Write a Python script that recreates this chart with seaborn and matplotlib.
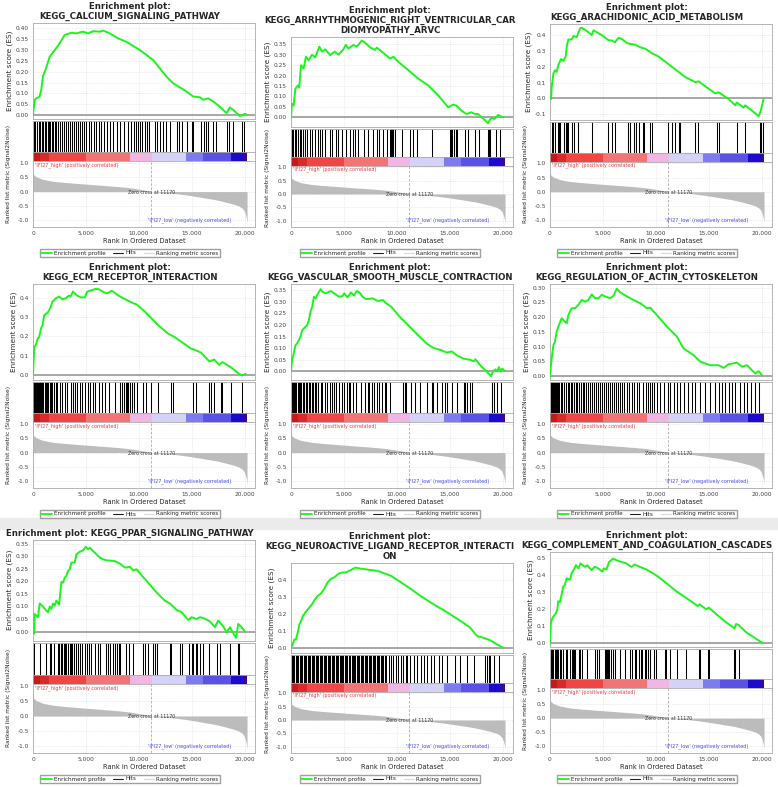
import matplotlib
matplotlib.use("Agg")
import matplotlib.pyplot as plt
from matplotlib.lines import Line2D
from matplotlib.patches import Rectangle
import seaborn as sns

# ---- data ----
titles = [
    "Enrichment plot:\nKEGG_CALCIUM_SIGNALING_PATHWAY",
    "Enrichment plot:\nKEGG_ARRHYTHMOGENIC_RIGHT_VENTRICULAR_CAR\nDIOMYOPATHY_ARVC",
    "Enrichment plot:\nKEGG_ARACHIDONIC_ACID_METABOLISM",
    "Enrichment plot:\nKEGG_ECM_RECEPTOR_INTERACTION",
    "Enrichment plot:\nKEGG_VASCULAR_SMOOTH_MUSCLE_CONTRACTION",
    "Enrichment plot:\nKEGG_REGULATION_OF_ACTIN_CYTOSKELETON",
    "Enrichment plot: KEGG_PPAR_SIGNALING_PATHWAY",
    "Enrichment plot:\nKEGG_NEUROACTIVE_LIGAND_RECEPTOR_INTERACTI\nON",
    "Enrichment plot:\nKEGG_COMPLEMENT_AND_COAGULATION_CASCADES",
]

calcium_rank = [0, 160, 320, 630, 790, 950, 1260, 1580, 1890, 2360, 2680, 2990, 3620, 4090, 4720, 5200,
                5670, 6300, 6610, 7240, 8030, 8820, 10080, 11340, 12600, 13230, 14020, 14490, 15120,
                15750, 16060, 16540, 17010, 17640, 18270, 18580, 18900, 19530, 20000, 20100]
calcium_es = [0, 0.07, 0.077, 0.085, 0.12, 0.18, 0.22, 0.27, 0.29, 0.32, 0.345, 0.37, 0.38, 0.377, 0.385,
              0.377, 0.387, 0.385, 0.39, 0.377, 0.354, 0.338, 0.30, 0.254, 0.177, 0.146, 0.123, 0.108,
              0.085, 0.082, 0.07, 0.077, 0.062, 0.038, 0.008, 0.035, 0.023, -0.005, 0.005, 0.003]
calcium_hits = [95, 220, 380, 570, 690, 850, 980, 1100, 1260, 1390, 1510, 1640, 1800, 1920, 2080, 2200,
                2360, 2520, 2710, 2900, 3090, 3280, 3470, 3650, 3840, 4030, 4250, 4440, 4630, 4850, 5040,
                5290, 5510, 5760, 5990, 6240, 6460, 6710, 6990, 7250, 7560, 7880, 8190, 8570, 8980, 9290,
                9510, 9700, 9920, 10080, 10330, 10580, 10770, 10960, 11500, 11720, 11970, 12290, 12540,
                12920, 13610, 13800, 14020, 14490, 14960, 15120, 15840, 16130, 16320, 16510, 17010, 17260,
                18330, 18520, 18900, 19720, 19910]

arvc_rank = [0, 90, 250, 410, 660, 780, 940, 1190, 1410, 1660, 1980, 2290, 2670, 2920, 3230, 3700, 4110,
             4480, 4950, 5170, 5420, 5890, 6210, 6680, 6990, 7460, 7930, 8090, 8560, 9340, 9660, 10130,
             11070, 12010, 12950, 13890, 14830, 15300, 15610, 16080, 16550, 17020, 17340, 17650, 18280,
             18590, 18900, 19220, 19530, 20000]
arvc_es = [0, 0.065, 0.056, 0.137, 0.153, 0.142, 0.25, 0.234, 0.29, 0.274, 0.30, 0.287, 0.339, 0.315,
           0.326, 0.298, 0.315, 0.30, 0.327, 0.347, 0.33, 0.347, 0.339, 0.368, 0.358, 0.335, 0.323, 0.334,
           0.315, 0.282, 0.29, 0.266, 0.226, 0.185, 0.153, 0.105, 0.048, 0.061, 0.056, 0.032, 0.016,
           0.024, 0.016, 0.016, -0.013, -0.029, 0.0, -0.008, 0.011, 0.0]
arvc_hits = [94, 190, 350, 500, 660, 820, 940, 1100, 1290, 1510, 1820, 1980, 2290, 2540, 2760, 2920, 3230,
             3640, 3860, 4230, 4480, 4800, 5170, 5580, 5890, 6050, 6360, 6930, 7310, 7780, 8090, 8340,
             8720, 9030, 9340, 9440, 9500, 9590, 9660, 9810, 10440, 11220, 11540, 11850, 13260, 14990,
             15080, 15210, 15360, 15610, 15710, 16400, 16710, 17340, 17710, 18590, 18650, 18750, 19370,
             19690]

arachidonic_rank = [0, 95, 160, 320, 470, 630, 790, 1040, 1260, 1480, 1580, 1730, 2050, 2210, 2520, 2840,
                    2990, 3470, 3940, 4100, 4880, 5510, 5830, 6140, 6460, 6770, 7250, 7560, 8030, 8510,
                    8980, 9610, 10240, 11500, 12760, 13700, 14020, 14650, 15590, 15910, 16850, 17480,
                    17640, 18270, 18430, 19690, 19850, 20000, 20160]
arachidonic_es = [0, -0.004, 0.071, 0.157, 0.178, 0.168, 0.211, 0.249, 0.237, 0.265, 0.329, 0.372, 0.372,
                  0.394, 0.387, 0.443, 0.447, 0.426, 0.40, 0.43, 0.40, 0.368, 0.366, 0.355, 0.383, 0.376,
                  0.35, 0.344, 0.34, 0.323, 0.314, 0.286, 0.265, 0.20, 0.135, 0.103, 0.108, 0.077, 0.032,
                  0.039, -0.004, -0.043, -0.026, -0.058, -0.043, -0.112, -0.086, -0.047, 0.0]
arachidonic_hits = [160, 250, 470, 720, 850, 950, 1350, 1480, 1580, 1670, 2110, 2300, 2610, 2680, 3940,
                    5510, 5830, 6140, 7400, 7560, 7880, 8100, 8410, 8820, 8910, 9450, 9610, 11180, 11500,
                    11810, 12130, 12290, 13700, 13950, 15750, 15910, 17640, 18430, 19850, 19940, 20070]

ecm_rank = [0, 125, 280, 440, 590, 750, 900, 1060, 1370, 1530, 1680, 1840, 2150, 2460, 2770, 3080, 3400,
            3550, 3770, 4170, 4490, 4890, 5110, 5420, 5890, 6200, 6670, 6980, 7450, 8070, 8690, 9470,
            9780, 10560, 11810, 12740, 13360, 14920, 15390, 15860, 16640, 17100, 17570, 17880, 18660,
            19440, 19750, 20060]
ecm_es = [0, 0.144, 0.157, 0.189, 0.197, 0.241, 0.259, 0.312, 0.324, 0.338, 0.356, 0.382, 0.40, 0.409,
          0.395, 0.40, 0.414, 0.409, 0.435, 0.414, 0.405, 0.405, 0.435, 0.44, 0.449, 0.448, 0.432, 0.426,
          0.439, 0.414, 0.395, 0.374, 0.368, 0.33, 0.259, 0.215, 0.197, 0.136, 0.127, 0.115, 0.069, 0.079,
          0.051, 0.065, 0.039, 0.004, -0.005, 0.004]
ecm_hits = [30, 125, 220, 310, 400, 500, 590, 690, 780, 870, 970, 1090, 1220, 1340, 1460, 1590, 1710, 1840,
            1990, 2150, 2310, 2520, 2770, 3020, 3240, 3550, 3770, 3960, 4170, 4390, 4640, 4950, 5200,
            5420, 5640, 5890, 6200, 6510, 6820, 7200, 7760, 8220, 8380, 8630, 8750, 8850, 8940, 9000,
            9160, 9380, 9560, 9780, 10400, 10620, 11180, 11810, 13050, 13210, 15080, 15390, 16640, 16790,
            17100, 17720, 17880, 18660, 19750]

vascular_rank = [0, 95, 250, 410, 570, 730, 890, 1050, 1370, 1520, 1680, 1840, 2000, 2160, 2320, 2480,
                 2790, 2950, 3270, 3750, 4060, 4540, 4860, 5020, 5330, 5650, 5970, 6190, 6450, 6760, 7080,
                 7720, 8190, 8670, 8990, 9460, 10260, 11210, 11840, 12800, 13430, 14220, 14700, 15180,
                 15650, 16290, 16920, 17240, 17400, 17880, 18510, 18890, 19050, 19300, 19460, 19620,
                 19780, 19940, 20160]
vascular_es = [0, 0.048, 0.076, 0.112, 0.12, 0.134, 0.148, 0.177, 0.192, 0.199, 0.22, 0.256, 0.278, 0.321,
               0.314, 0.329, 0.354, 0.343, 0.336, 0.346, 0.336, 0.321, 0.324, 0.336, 0.318, 0.34, 0.326,
               0.346, 0.34, 0.321, 0.311, 0.314, 0.303, 0.307, 0.293, 0.278, 0.235, 0.192, 0.163, 0.12,
               0.101, 0.091, 0.081, 0.086, 0.069, 0.055, 0.05, 0.043, 0.052, 0.026, -0.003, -0.02, 0.0,
               0.009, 0.0, 0.019, 0.0, 0.012, 0.003]
vascular_hits = [95, 190, 290, 410, 510, 640, 730, 860, 980, 1110, 1210, 1370, 1520, 1680, 1840, 2000,
                 2100, 2250, 2380, 2570, 2790, 2950, 3210, 3430, 3650, 3840, 4060, 4290, 4540, 4790, 5020,
                 5240, 5430, 5560, 5810, 6130, 6600, 7020, 7240, 7400, 7650, 7870, 8100, 8350, 8600, 8830,
                 8990, 9300, 10570, 10730, 10890, 11370, 11680, 12160, 12800, 13270, 13430, 13750, 14220,
                 14540, 14700, 15180, 15650, 16290, 16450, 16610, 16920, 17080, 18990, 19150, 19460, 19780]

actin_rank = [0, 95, 220, 320, 470, 630, 790, 1100, 1260, 1580, 1730, 2050, 2360, 2680, 2990, 3310, 3620,
              3940, 4250, 4570, 4880, 5200, 5670, 5990, 6300, 6620, 7250, 7880, 8510, 9140, 9450, 10080,
              11030, 11970, 12600, 13550, 14180, 15120, 15910, 16380, 16850, 17640, 18110, 18590, 19060,
              19370, 19690, 20000]
actin_es = [0, 0.037, 0.077, 0.105, 0.117, 0.151, 0.168, 0.196, 0.19, 0.179, 0.207, 0.23, 0.23, 0.241,
            0.258, 0.252, 0.258, 0.277, 0.264, 0.264, 0.275, 0.27, 0.264, 0.272, 0.296, 0.284, 0.27, 0.258,
            0.247, 0.23, 0.232, 0.207, 0.168, 0.134, 0.094, 0.071, 0.049, 0.037, 0.037, 0.028, 0.04, 0.046,
            0.032, 0.037, 0.02, 0.009, 0.017, 0.003]
actin_hits = [60, 160, 250, 350, 440, 540, 630, 760, 880, 1010, 1170, 1320, 1510, 1670, 1830, 1950, 2110,
              2270, 2430, 2580, 2770, 2930, 3090, 3240, 3400, 3590, 3780, 3970, 4160, 4350, 4540, 4730,
              4910, 5100, 5290, 5480, 5670, 5860, 6050, 6240, 6430, 6620, 6800, 6990, 7250, 7500, 7720,
              7940, 8190, 8440, 8760, 9070, 9230, 9390, 9610, 9830, 10080, 10400, 10770, 11090, 11340,
              11660, 11970, 12290, 12660, 13070, 13390, 13700, 14180, 14650, 15120, 15590, 15910, 16220,
              16540, 16850, 17170, 17480, 17960, 18270, 18590, 18960, 19370, 19690]

ppar_rank = [0, 95, 160, 320, 470, 630, 950, 1260, 1420, 1580, 1730, 1890, 2050, 2210, 2460, 2680, 2840,
             2990, 3150, 3310, 3470, 3620, 3940, 4100, 4410, 4730, 4980, 5200, 5360, 5990, 6300, 6620,
             6930, 7720, 8190, 8660, 9140, 9450, 9770, 10710, 11660, 12440, 12920, 13550, 14020, 14650,
             14960, 15440, 15750, 16070, 16700, 17170, 17480, 17960, 18270, 18590, 19150, 19370, 19690,
             20000]
ppar_es = [0, -0.009, 0.07, 0.063, 0.057, 0.112, 0.099, 0.083, 0.077, 0.099, 0.09, 0.112, 0.103, 0.123,
           0.107, 0.198, 0.195, 0.215, 0.222, 0.242, 0.248, 0.275, 0.275, 0.308, 0.318, 0.324, 0.338,
           0.328, 0.334, 0.308, 0.295, 0.288, 0.284, 0.281, 0.271, 0.255, 0.258, 0.244, 0.248, 0.202,
           0.156, 0.123, 0.112, 0.086, 0.077, 0.046, 0.057, 0.05, 0.057, 0.054, 0.04, 0.017, 0.044, 0.02,
           -0.003, 0.017, -0.025, 0.03, 0.017, 0.0]
ppar_hits = [95, 630, 1260, 1580, 1730, 1950, 2360, 2460, 2610, 2680, 2770, 2900, 2990, 3150, 3310, 3470,
             3620, 3720, 3840, 4030, 4250, 4410, 4660, 4880, 5100, 5290, 5510, 5830, 6140, 6300, 6930,
             7090, 7250, 7560, 7720, 7880, 8130, 8190, 8250, 8760, 9070, 9390, 10400, 10550, 10870, 11280,
             11500, 11660, 12920, 13070, 13860, 14020, 14740, 14960, 15120, 15370, 15500, 15750, 16070,
             16630, 17330, 17640, 18590, 19370, 19470]

neuro_rank = [0, 160, 310, 470, 630, 780, 940, 1100, 1410, 1720, 2040, 2200, 2510, 2820, 3140, 3450, 3760,
              4080, 4550, 4860, 5170, 5490, 5800, 6110, 6430, 6900, 7520, 8150, 8780, 9410, 10030, 10970,
              12230, 13480, 14730, 15680, 16300, 16930, 17560, 18180, 18810, 19440, 20000]
neuro_es = [0, 0.019, 0.048, 0.048, 0.087, 0.135, 0.155, 0.184, 0.213, 0.236, 0.261, 0.28, 0.305, 0.319,
            0.348, 0.386, 0.406, 0.415, 0.439, 0.444, 0.444, 0.454, 0.464, 0.473, 0.468, 0.464, 0.458,
            0.454, 0.439, 0.425, 0.40, 0.361, 0.305, 0.255, 0.209, 0.17, 0.145, 0.116, 0.068, 0.058, 0.043,
            0.019, 0.0]
neuro_hits = [60, 190, 310, 440, 560, 690, 820, 940, 1070, 1190, 1320, 1440, 1570, 1690, 1820, 1940, 2070,
              2200, 2320, 2450, 2570, 2700, 2820, 2950, 3070, 3200, 3320, 3450, 3570, 3700, 3830, 3950,
              4080, 4200, 4330, 4450, 4580, 4700, 4830, 4950, 5080, 5200, 5330, 5460, 5580, 5710, 5830,
              5960, 6080, 6210, 6330, 6460, 6580, 6710, 6830, 6960, 7090, 7210, 7340, 7460, 7590, 7710,
              7840, 7960, 8090, 8210, 8340, 8470, 8590, 8720, 8840, 8970, 9250, 9470, 9660, 9880, 10100,
              10350, 10600, 10820, 10970, 11220, 11600, 11910, 12230, 12540, 12850, 13170, 13480, 13950,
              14260, 14740, 15520, 15930, 16620, 17240, 18340, 18500, 18650, 18810, 19120, 19590]

complement_rank = [0, 90, 250, 380, 560, 690, 780, 940, 1100, 1250, 1410, 1570, 1880, 2040, 2260, 2450,
                   2670, 2880, 3290, 3510, 3920, 4230, 4550, 4950, 5080, 5330, 5580, 5960, 6270, 6740,
                   7210, 7680, 7990, 8470, 9090, 9720, 10190, 10970, 11910, 12850, 13950, 14110, 14740,
                   14990, 15680, 16620, 17400, 17560, 17810, 18500, 20060]
complement_es = [0, 0.121, 0.149, 0.159, 0.174, 0.197, 0.245, 0.239, 0.284, 0.331, 0.341, 0.379, 0.37,
                 0.408, 0.431, 0.456, 0.437, 0.466, 0.446, 0.456, 0.427, 0.446, 0.437, 0.418, 0.437, 0.431,
                 0.475, 0.494, 0.485, 0.475, 0.466, 0.446, 0.46, 0.446, 0.431, 0.408, 0.389, 0.351, 0.303,
                 0.264, 0.216, 0.226, 0.197, 0.207, 0.169, 0.121, 0.086, 0.111, 0.105, 0.063, 0.0]
complement_hits = [90, 220, 310, 470, 560, 690, 780, 940, 1040, 1250, 1470, 1570, 1880, 2040, 2200, 2260,
                   2350, 2760, 2820, 2980, 3510, 4230, 4450, 4640, 5170, 5270, 5390, 5490, 5580, 5710,
                   5960, 6110, 6650, 7050, 7590, 7780, 7990, 8150, 8400, 8560, 8720, 8940, 9090, 9250,
                   9410, 9810, 10030, 10820, 10970, 11290, 12010, 12850, 14050, 14170, 14890, 14990,
                   17400, 17490, 17870]

# ranked list metric (signal2noise), shared by every panel
metric_rank = [0, 50, 300, 900, 1900, 3000, 4700, 6300, 7900, 9000, 10100, 11170, 12000, 13200, 14500,
               15700, 16500, 17300, 18100, 18900, 19400, 19700, 19900, 20050, 20150, 20200]
metric_val = [0.68, 0.6, 0.52, 0.43, 0.36, 0.32, 0.27, 0.225, 0.18, 0.14, 0.08, 0.0, -0.03, -0.06, -0.12,
              -0.19, -0.24, -0.29, -0.36, -0.44, -0.5, -0.57, -0.65, -0.8, -0.95, -1.12]
zero_cross = 11170

# heat bar under the hits
bar_edges = [0, 700, 1500, 5000, 9200, 11200, 14400, 16000, 18700, 19900, 20200]
bar_colors = ['#c41a1a', '#d92a2a', '#ef4545', '#f27474', '#f2b6e4', '#d4d2f7', '#7c7cf0', '#5a52e4',
              '#1d0acc', '#3c0890']

es_ticks = [
    [0, 0.05, 0.10, 0.15, 0.20, 0.25, 0.30, 0.35, 0.40],
    [0, 0.05, 0.10, 0.15, 0.20, 0.25, 0.30, 0.35],
    [-0.1, 0.0, 0.1, 0.2, 0.3, 0.4],
    [0.0, 0.1, 0.2, 0.3, 0.4],
    [0, 0.05, 0.10, 0.15, 0.20, 0.25, 0.30, 0.35],
    [0, 0.05, 0.10, 0.15, 0.20, 0.25, 0.30],
    [0, 0.05, 0.10, 0.15, 0.20, 0.25, 0.30, 0.35],
    [0.0, 0.1, 0.2, 0.3, 0.4],
    [0.0, 0.1, 0.2, 0.3, 0.4, 0.5],
]
es_ylims = [(-0.02, 0.425), (-0.045, 0.385), (-0.135, 0.47), (-0.03, 0.475), (-0.038, 0.376),
            (-0.014, 0.312), (-0.036, 0.365), (-0.03, 0.5), (-0.023, 0.533)]
es_fmt = ['%.2f', '%.2f', '%.1f', '%.1f', '%.2f', '%.2f', '%.2f', '%.1f', '%.1f']

panels = [
    (calcium_rank, calcium_es, calcium_hits),
    (arvc_rank, arvc_es, arvc_hits),
    (arachidonic_rank, arachidonic_es, arachidonic_hits),
    (ecm_rank, ecm_es, ecm_hits),
    (vascular_rank, vascular_es, vascular_hits),
    (actin_rank, actin_es, actin_hits),
    (ppar_rank, ppar_es, ppar_hits),
    (neuro_rank, neuro_es, neuro_hits),
    (complement_rank, complement_es, complement_hits),
]

# ---- layout in image pixels ----
W, H = 778, 787
col_left = [33, 291, 550]
col_center = [130, 390, 647]
ax_w = 222
plot_top = [23, 37, 24, 284, 284, 284, 540, 563, 552]
metric_bot = [227, 227, 227, 488, 488, 488, 753, 753, 753]
XMAX = 20950
GREEN = '#1cf51c'
FRAME = '#a8a8a8'
GRID = '#d8d8d8'

sns.set_style('white')
plt.rcParams['font.family'] = ['DejaVu Sans']


def box(x, y, w, h):
    return [x / W, 1 - (y + h) / H, w / W, h / H]


def style_frame(ax):
    for s in ax.spines.values():
        s.set_color(FRAME)
        s.set_linewidth(0.6)


fig = plt.figure(figsize=(W / 100, H / 100), dpi=100)
fig.patches.append(Rectangle((0, 1 - 529 / H), 1, 11 / H, transform=fig.transFigure,
                             color='#ebebeb', zorder=0))

xt = [0, 5000, 10000, 15000, 20000]

for i, (rank, es, hits) in enumerate(panels):
    c = i % 3
    x0 = col_left[c]
    top = plot_top[i]
    total = metric_bot[i] - top
    h_es = total * 0.472
    h_gap = total * 0.01
    h_hits = total * 0.152
    h_bar = total * 0.044
    h_met = total - h_es - h_gap - h_hits - h_bar
    y_hits = top + h_es + h_gap
    y_bar = y_hits + h_hits
    y_met = y_bar + h_bar

    fig.text(col_center[c] / W, 1 - (top - 2) / H, titles[i], ha='center', va='bottom',
             fontsize=6.2, fontweight='bold', linespacing=1.1)

    # running enrichment score
    ax = fig.add_axes(box(x0, top, ax_w, h_es))
    ax.axhline(0, color='#a0a0a0', lw=1.3, zorder=1)
    sns.lineplot(x=rank, y=es, ax=ax, color=GREEN, lw=1.4, estimator=None, sort=False, zorder=3)
    ax.set_xlim(0, XMAX)
    ax.set_ylim(*es_ylims[i])
    ax.set_xticks(xt)
    ax.set_yticks(es_ticks[i])
    ax.set_yticklabels([es_fmt[i] % t for t in es_ticks[i]])
    ax.tick_params(axis='x', length=0, labelbottom=False)
    ax.tick_params(axis='y', length=2, width=0.5, color=FRAME, labelsize=4.2, pad=1, labelcolor='#444444')
    ax.grid(True, color=GRID, lw=0.5, ls=':')
    ax.set_xlabel('')
    ax.set_ylabel('Enrichment score (ES)', fontsize=5.2, labelpad=2)
    style_frame(ax)

    # gene set hits
    axh = fig.add_axes(box(x0, y_hits, ax_w, h_hits))
    axh.vlines(hits, 0, 1, color='#000000', lw=0.75)
    axh.set_xlim(0, XMAX)
    axh.set_ylim(0, 1)
    axh.set_xticks([])
    axh.set_yticks([])
    style_frame(axh)

    # heat bar
    axb = fig.add_axes(box(x0, y_bar, ax_w, h_bar))
    for k, col in enumerate(bar_colors):
        axb.axvspan(bar_edges[k], bar_edges[k + 1], color=col, lw=0)
    axb.set_xlim(0, XMAX)
    axb.set_xticks([])
    axb.set_yticks([])
    style_frame(axb)

    # ranked list metric
    axm = fig.add_axes(box(x0, y_met, ax_w, h_met))
    axm.fill_between(metric_rank, metric_val, 0, color='#bcbcbc', lw=0)
    axm.axvline(zero_cross, color='#aaaaaa', lw=0.6, ls=(0, (3, 2)))
    axm.set_xlim(0, XMAX)
    axm.set_ylim(-1.24, 1.06)
    axm.set_yticks([-1.0, -0.5, 0.0, 0.5, 1.0])
    axm.set_yticklabels(['-1.0', '-0.5', '0.0', '0.5', '1.0'])
    axm.set_xticks(xt)
    axm.set_xticklabels(['0', '5,000', '10,000', '15,000', '20,000'])
    axm.tick_params(length=2, width=0.5, color=FRAME, labelsize=4.2, pad=1, labelcolor='#444444')
    axm.grid(True, color=GRID, lw=0.5, ls=':')
    axm.set_xlabel('Rank in Ordered Dataset', fontsize=4.8, labelpad=1.5)
    style_frame(axm)
    axm.text(150, 0.93, "'IFI27_high' (positively correlated)", color='#f03c3c', fontsize=3.5,
             ha='left', va='center')
    axm.text(zero_cross, -0.02, 'Zero cross at 11170', color='#333333', fontsize=3.4,
             ha='center', va='center')
    axm.text(18700, -1.0, "'IFI27_low' (negatively correlated)", color='#4a4af0', fontsize=3.5,
             ha='right', va='center')

    ymid = (y_hits + metric_bot[i]) / 2
    fig.text((x0 - 24) / W, 1 - ymid / H, 'Ranked list metric (Signal2Noise)', rotation=90,
             ha='center', va='center', fontsize=4.2)

    handles = [Line2D([], [], color=GREEN, lw=1.3), Line2D([], [], color='#222222', lw=0.8),
               Line2D([], [], color='#d8d8d8', lw=0.8)]
    fig.legend(handles, ['Enrichment profile', 'Hits', 'Ranking metric scores'], loc='center',
               bbox_to_anchor=(col_center[c] / W, 1 - (metric_bot[i] + 26) / H), ncol=3, fontsize=4.1,
               frameon=True, fancybox=False, edgecolor='#888888', handlelength=1.8,
               handletextpad=0.4, columnspacing=1.3, borderpad=0.3)

fig.savefig('out.png', dpi=100)
